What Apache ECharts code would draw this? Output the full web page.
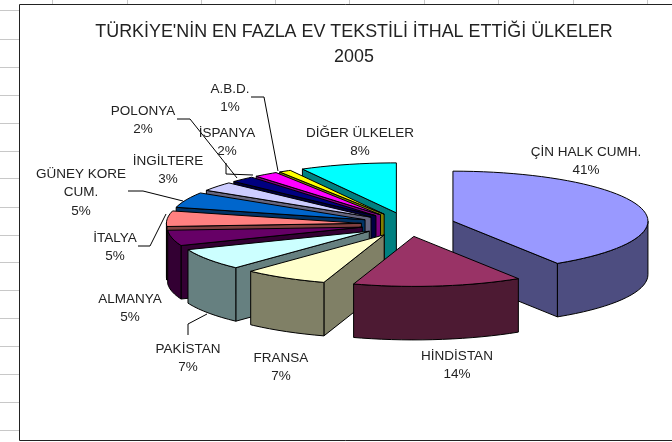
<!DOCTYPE html>
<html>
<head>
<meta charset="utf-8">
<style>
  html, body { margin: 0; padding: 0; background: #fff; }
  #chart { width: 672px; height: 442px; }
</style>
<script src="https://cdn.jsdelivr.net/npm/echarts@6/dist/echarts.min.js"></script>
</head>
<body>
<div id="chart"></div>
<script>
var titleLines = ["TÜRKİYE'NİN EN FAZLA EV TEKSTİLİ İTHAL ETTİĞİ ÜLKELER", "2005"];
var countries = ["ÇİN HALK CUMH.", "HİNDİSTAN", "FRANSA", "PAKİSTAN", "ALMANYA", "İTALYA",
  "GÜNEY KORE\nCUM.", "İNGİLTERE", "İSPANYA", "POLONYA", "A.B.D.", "DİĞER ÜLKELER"];
var shares = [41, 14, 7, 7, 5, 5, 5, 3, 2, 2, 1, 8];
var topColors = ["#9999ff", "#993366", "#ffffcc", "#ccffff", "#660066", "#ff8080",
  "#0066cc", "#ccccff", "#000080", "#ff00ff", "#ffff00", "#00ffff"];
var sideColors = ["#4d4d80", "#4d1a33", "#808066", "#668080", "#330033", "#804040",
  "#003366", "#666680", "#000040", "#800080", "#808000", "#008080"];

// where Excel left the labels (center x, y of first line) and their leader lines
var labelAnchors = [[586, 150], [457, 354], [281, 356], [188, 347], [130, 297], [115, 236],
  [81, 172], [168, 159], [227, 131], [143, 109], [230, 87], [360, 131]];
var leaderLines = [
  [[251, 97], [264, 97], [278, 171]],
  [[177, 119], [190, 119], [237, 178]],
  [[226, 163], [226, 174], [253, 175]],
  [[128, 191], [143, 191], [183, 201]],
  [[138, 246], [150, 246], [166, 214]],
  [[188, 335], [188, 324], [207, 314]]
];

// spreadsheet cells showing around the chart object
var sheetRows = [10, 39, 67, 95, 123, 151, 178, 207, 235, 262, 290, 318, 346, 374, 402, 430];
var sheetCols = [52, 127, 201, 275, 349, 424, 498, 573, 647];

var EXPLODE = 0.24; // slice offset, in pie radii
var DEPTH = 1.07;   // extrusion height, in y radii
var STEP = 3;       // degrees per arc segment

var total = shares.reduce(function (a, b) { return a + b; }, 0);

// angles run clockwise from 12 o'clock
var running = 0;
var sliceRows = shares.map(function (v, i) {
  var start = running / total * 360;
  running += v;
  return [start, running / total * 360, i];
});

// back slices first so the front ones paint over them
sliceRows.sort(function (a, b) {
  return Math.cos(rad((b[0] + b[1]) / 2)) - Math.cos(rad((a[0] + a[1]) / 2));
});

function rad(d) { return d * Math.PI / 180; }

function renderSlice(params, api) {
  var a0 = api.value(0), a1 = api.value(1), idx = api.value(2);
  var mid = rad((a0 + a1) / 2);
  var ox = EXPLODE * Math.sin(mid), oy = EXPLODE * Math.cos(mid);

  function rim(deg, drop) {
    return api.coord([ox + Math.sin(rad(deg)), oy + Math.cos(rad(deg)) - drop]);
  }
  function hub(drop) {
    return api.coord([ox, oy - drop]);
  }
  function arc(from, to, drop) {
    var pts = [], d = from;
    while (d < to) { pts.push(rim(d, drop)); d += STEP; }
    pts.push(rim(to, drop));
    return pts;
  }
  function face(points, color) {
    return {
      type: "polygon",
      shape: { points: points },
      style: { fill: color, stroke: "#000", lineWidth: 1 }
    };
  }

  var side = sideColors[idx];
  var children = [];

  // radial walls, only the ones turned toward the viewer
  if (Math.sin(rad(a1)) > 0.001) {
    children.push(face([hub(0), rim(a1, 0), rim(a1, DEPTH), hub(DEPTH)], side));
  }
  if (Math.sin(rad(a0)) < -0.001) {
    children.push(face([hub(0), rim(a0, 0), rim(a0, DEPTH), hub(DEPTH)], side));
  }

  // outer wall, the front half of the rim only
  var from = Math.max(a0, 90), to = Math.min(a1, 270);
  if (to > from) {
    children.push(face(arc(from, to, 0).concat(arc(from, to, DEPTH).reverse()), side));
  }

  children.push(face([hub(0)].concat(arc(a0, a1, 0)), topColors[idx]));
  return { type: "group", children: children };
}

var graphics = [];

sheetRows.forEach(function (y) {
  graphics.push({ type: "line", shape: { x1: 0, y1: y + 0.5, x2: 19, y2: y + 0.5 }, style: { stroke: "#c8c8c8", lineWidth: 1 }, z: 0 });
});
sheetCols.forEach(function (x) {
  graphics.push({ type: "line", shape: { x1: x + 0.5, y1: 0, x2: x + 0.5, y2: 4 }, style: { stroke: "#c8c8c8", lineWidth: 1 }, z: 0 });
});

// chart object border, runs off the right edge of the shot
graphics.push({
  type: "polyline",
  shape: { points: [[672, 4.5], [19.5, 4.5], [19.5, 440.5], [672, 440.5]] },
  style: { fill: null, stroke: "#222", lineWidth: 1 },
  z: 1
});

titleLines.forEach(function (line, i) {
  graphics.push({
    type: "text", x: 354, y: 32 + i * 25,
    style: { text: line, fontFamily: "Liberation Sans", fontSize: 17.9, fill: "#222", align: "center", verticalAlign: "middle" },
    z: 5
  });
});

countries.forEach(function (name, i) {
  graphics.push({
    type: "text", x: labelAnchors[i][0], y: labelAnchors[i][1] - 7,
    style: {
      text: name + "\n" + Math.round(shares[i] / total * 100) + "%",
      fontFamily: "Liberation Sans", fontSize: 13.5, lineHeight: 18.5, fill: "#222",
      align: "center", verticalAlign: "top"
    },
    z: 5
  });
});

leaderLines.forEach(function (pts) {
  graphics.push({
    type: "polyline",
    shape: { points: pts },
    style: { fill: null, stroke: "#000", lineWidth: 1 },
    z: 4
  });
});

var chart = echarts.init(document.getElementById("chart"));
chart.setOption({
  animation: false,
  backgroundColor: "#fff",
  // one unit on these hidden axes is one pie radius, the y axis squashed for the tilt
  grid: { left: 213, width: 390, top: 174.5, height: 100 },
  xAxis: { type: "value", min: -1, max: 1, show: false },
  yAxis: { type: "value", min: -1, max: 1, show: false },
  graphic: { elements: graphics },
  series: [{
    type: "custom",
    coordinateSystem: "cartesian2d",
    renderItem: renderSlice,
    encode: { x: 0, y: 1 },
    data: sliceRows,
    clip: false,
    silent: true
  }]
});
</script>
</body>
</html>
